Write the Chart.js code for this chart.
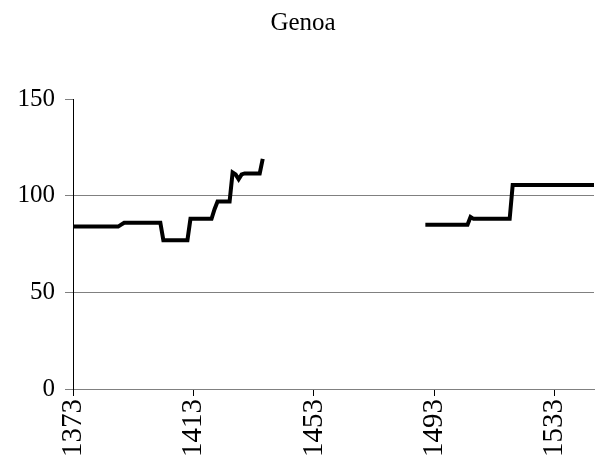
<!DOCTYPE html>
<html><head><meta charset="utf-8">
<script src="https://cdn.jsdelivr.net/npm/chart.js@4"></script>
<style>html,body{margin:0;padding:0;background:#fff}#wrap{width:606px;height:460px}</style>
</head><body><div id="wrap"><canvas id="c" width="606" height="460"></canvas></div>
<script>
const firstYear = 1373;
const lastYear = 1546;
const years = Array.from({length: lastYear - firstYear + 1}, (_, i) => String(firstYear + i));
// one value per year, 1373..1546 (null = no data)
const genoaValues = [
  84,84,84,84,84,84,84,84,84,84,            // 1373-1382
  84,84,84,84,84,84,85,86,86,86,            // 1383-1392
  86,86,86,86,86,86,86,86,86,86,            // 1393-1402
  77,77,77,77,77,77,77,77,77,88,            // 1403-1412
  88,88,88,88,88,88,88,93,97,97,            // 1413-1422
  97,97,97,112,111,108.5,111,111.5,111.5,111.5, // 1423-1432
  111.5,111.5,111.5,119,null,null,null,null,null,null, // 1433-1442
  null,null,null,null,null,null,null,null,null,null,   // 1443-1452
  null,null,null,null,null,null,null,null,null,null,   // 1453-1462
  null,null,null,null,null,null,null,null,null,null,   // 1463-1472
  null,null,null,null,null,null,null,null,null,null,   // 1473-1482
  null,null,null,null,null,null,null,85,85,85,         // 1483-1492
  85,85,85,85,85,85,85,85,85,85,            // 1493-1502
  85,85,89,88,88,88,88,88,88,88,            // 1503-1512
  88,88,88,88,88,88,105.5,105.5,105.5,105.5, // 1513-1522
  105.5,105.5,105.5,105.5,105.5,105.5,105.5,105.5,105.5,105.5, // 1523-1532
  105.5,105.5,105.5,105.5,105.5,105.5,105.5,105.5,105.5,105.5, // 1533-1542
  105.5,105.5,105.5,105.5                   // 1543-1546
];
const xTickLabels = ['1373','1413','1453','1493','1533'];
const yMin = 0, yMax = 150, yStep = 50;
const titleText = 'Genoa';

const serif = '"Liberation Serif", "Times New Roman", serif';
new Chart(document.getElementById('c').getContext('2d'), {
  type: 'line',
  data: {
    labels: years,
    datasets: [{
      data: genoaValues,
      borderColor: '#000',
      borderWidth: 4,
      pointRadius: 0,
      tension: 0,
      spanGaps: false,
      fill: false
    }]
  },
  options: {
    responsive: false,
    animation: false,
    layout: {padding: {left: 12, right: 12, top: 0, bottom: 0}},
    plugins: {
      legend: {display: false},
      tooltip: {enabled: false},
      title: {
        display: true, text: titleText, color: '#000',
        font: {family: serif, size: 25, weight: 'normal'},
        padding: {top: 8.5, bottom: 60.5}
      }
    },
    scales: {
      x: {
        type: 'category',
        offset: false,
        grid: {display: true, drawOnChartArea: false, drawTicks: true, tickLength: 7, tickColor: '#000', offset: false},
        border: {display: true, color: '#808080', width: 1},
        ticks: {
          autoSkip: false, maxRotation: 90, minRotation: 90, padding: 3, color: '#000',
          font: {family: serif, size: 29},
          callback: function (v) {
            const l = this.getLabelForValue(v);
            return xTickLabels.includes(l) ? l : null;
          }
        },
        afterFit(s) { s.height = 71; }
      },
      y: {
        min: yMin, max: yMax,
        ticks: {stepSize: yStep, color: '#000', padding: 10, font: {family: serif, size: 25}},
        grid: {
          color: (c) => (c.tick && c.tick.value === yMax) ? 'rgba(0,0,0,0)' : '#808080',
          tickColor: '#808080', tickLength: 8, lineWidth: 1
        },
        border: {display: true, color: '#000', width: 1},
        afterFit(s) { s.width = 61; }
      }
    }
  }
});
</script>
</body></html>
